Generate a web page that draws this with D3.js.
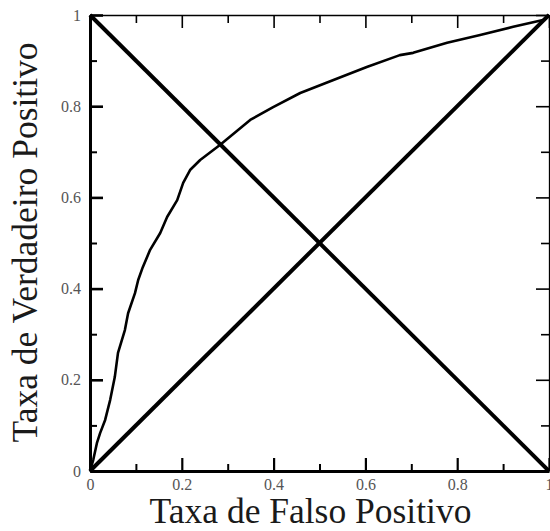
<!DOCTYPE html>
<html>
<head>
<meta charset="utf-8">
<script src="https://cdn.jsdelivr.net/npm/d3@7"></script>
<style>
  html, body { margin: 0; padding: 0; background: #fff; }
  svg { display: block; }
</style>
</head>
<body>
<svg id="chart" width="550" height="531"></svg>
<script>
// ROC curve: false positive rate vs. true positive rate
const fpr = [0, 0.007, 0.015, 0.022, 0.033, 0.044, 0.054, 0.061, 0.076, 0.083, 0.098, 0.105,
             0.115, 0.131, 0.153, 0.168, 0.19, 0.203, 0.218, 0.24, 0.283, 0.349, 0.399, 0.458,
             0.529, 0.603, 0.675, 0.704, 0.778, 0.85, 0.922, 0.987, 1];
const tpr = [0, 0.024, 0.061, 0.083, 0.112, 0.156, 0.206, 0.259, 0.309, 0.346, 0.39, 0.419,
             0.447, 0.485, 0.522, 0.557, 0.594, 0.632, 0.66, 0.682, 0.715, 0.77, 0.798, 0.829,
             0.857, 0.886, 0.912, 0.917, 0.939, 0.956, 0.974, 0.989, 1];

// Reference diagonals
const diagRising  = [[0, 0], [1, 1]];
const diagFalling = [[0, 1], [1, 0]];

const majorTicks = [0, 0.2, 0.4, 0.6, 0.8, 1];
const majorLabels = ["0", "0.2", "0.4", "0.6", "0.8", "1"];
const minorTicks = [0.1, 0.3, 0.5, 0.7, 0.9];

const xTitle = "Taxa de Falso Positivo";
const yTitle = "Taxa de Verdadeiro Positivo";

const svg = d3.select("#chart");
const x = d3.scaleLinear().domain([0, 1]).range([90, 549]);
const y = d3.scaleLinear().domain([0, 1]).range([471, 15]);
const fmt = (d) => majorLabels[majorTicks.indexOf(d)];

function styleAxis(g, domainWidth, majorWidth) {
  g.select(".domain").attr("stroke", "#000").attr("stroke-width", domainWidth);
  g.selectAll(".tick line").attr("stroke", "#000").attr("stroke-width", majorWidth);
  g.selectAll(".tick text")
    .attr("fill", "#555")
    .attr("font-family", "'Liberation Serif', 'Times New Roman', serif")
    .attr("font-size", 16);
}

// Top and right frame (thin, ticks inward, no labels)
const gTop = svg.append("g").attr("transform", `translate(0,${y(1)})`)
  .call(d3.axisTop(x).tickValues(majorTicks).tickSize(-13).tickSizeOuter(0).tickFormat(""));
styleAxis(gTop, 1.3, 1.6);
const gTopMinor = svg.append("g").attr("transform", `translate(0,${y(1)})`)
  .call(d3.axisTop(x).tickValues(minorTicks).tickSize(-8).tickSizeOuter(0).tickFormat(""));
styleAxis(gTopMinor, 0, 1.6);
gTopMinor.select(".domain").remove();

const gRight = svg.append("g").attr("transform", `translate(${x(1)},0)`)
  .call(d3.axisRight(y).tickValues(majorTicks).tickSize(-13).tickSizeOuter(0).tickFormat(""));
styleAxis(gRight, 1.3, 1.6);
const gRightMinor = svg.append("g").attr("transform", `translate(${x(1)},0)`)
  .call(d3.axisRight(y).tickValues(minorTicks).tickSize(-8).tickSizeOuter(0).tickFormat(""));
styleAxis(gRightMinor, 0, 1.6);
gRightMinor.select(".domain").remove();

// Bottom axis
const gBottom = svg.append("g").attr("transform", `translate(0,${y(0)})`)
  .call(d3.axisBottom(x).tickValues(majorTicks).tickSize(-13).tickSizeOuter(0)
    .tickPadding(8).tickFormat(fmt));
styleAxis(gBottom, 3, 2.2);
const gBottomMinor = svg.append("g").attr("transform", `translate(0,${y(0)})`)
  .call(d3.axisBottom(x).tickValues(minorTicks).tickSize(-7).tickSizeOuter(0).tickFormat(""));
styleAxis(gBottomMinor, 0, 2);
gBottomMinor.select(".domain").remove();

// Left axis
const gLeft = svg.append("g").attr("transform", `translate(${x(0)},0)`)
  .call(d3.axisLeft(y).tickValues(majorTicks).tickSize(-13).tickSizeOuter(0)
    .tickPadding(9).tickFormat(fmt));
styleAxis(gLeft, 3, 2.6);
const gLeftMinor = svg.append("g").attr("transform", `translate(${x(0)},0)`)
  .call(d3.axisLeft(y).tickValues(minorTicks).tickSize(-7).tickSizeOuter(0).tickFormat(""));
styleAxis(gLeftMinor, 0, 2);
gLeftMinor.select(".domain").remove();

// Diagonals
const seg = d3.line().x(d => x(d[0])).y(d => y(d[1]));
[diagRising, diagFalling].forEach(pts => {
  svg.append("path").attr("d", seg(pts))
    .attr("fill", "none").attr("stroke", "#000").attr("stroke-width", 4);
});

// ROC curve
const roc = fpr.map((v, i) => [v, tpr[i]]);
svg.append("path").attr("d", seg(roc))
  .attr("fill", "none").attr("stroke", "#000").attr("stroke-width", 2.6)
  .attr("stroke-linejoin", "round");

// Axis titles
svg.append("text")
  .attr("x", 310.5).attr("y", 523)
  .attr("text-anchor", "middle")
  .attr("font-family", "'Liberation Serif', 'Times New Roman', serif")
  .attr("font-size", 35.5).attr("fill", "#1a1a1a")
  .text(xTitle);

svg.append("text")
  .attr("transform", "translate(37,242.5) rotate(-90)")
  .attr("text-anchor", "middle")
  .attr("font-family", "'Liberation Serif', 'Times New Roman', serif")
  .attr("font-size", 35.5).attr("fill", "#1a1a1a")
  .text(yTitle);
</script>
</body>
</html>
